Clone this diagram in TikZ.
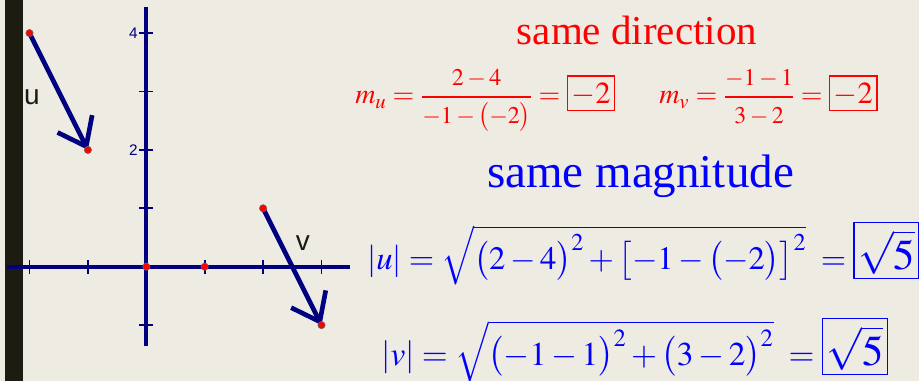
\documentclass[tikz,border=0pt]{standalone}
\usepackage{amsmath}
\usepackage{mathptmx}
\usepackage{fontspec}
\setmainfont{Liberation Serif}
\newfontfamily\labelfont{Liberation Sans}
\usetikzlibrary{arrows.meta,positioning}

\definecolor{paper}{RGB}{238,235,227}
\definecolor{sidebar}{RGB}{28,28,16}
\definecolor{axisnavy}{RGB}{0,0,128}
\definecolor{slopered}{RGB}{255,0,0}
\definecolor{normblue}{RGB}{0,0,255}

% smaller numerator / denominator, larger boxed result
\newcommand{\fracpart}[1]{\mbox{\fontsize{18pt}{20pt}\selectfont$#1$}}
% size, height, depth, content
\newcommand{\answer}[4]{\boxed{\mbox{\fontsize{#1}{#1}\selectfont\rule[-#3]{0pt}{\dimexpr#2+#3\relax}$#4$}}}
\setlength{\fboxrule}{1.1pt}
\setlength{\fboxsep}{2.5pt}

\tikzset{
  axisline/.style={axisnavy,line width=3pt},
  tickmark/.style={axisnavy,line width=1.4pt},
  vector/.style={axisnavy,line width=3.5pt,-{Straight Barb[length=19pt,width=29pt]}},
  gridpt/.style={circle,fill=red,draw=black!60,line width=0.4pt,inner sep=0pt,minimum size=5.5pt},
  veclabel/.style={font=\labelfont\fontsize{21pt}{24pt}\selectfont,text=black!90},
  ticklabel/.style={font=\labelfont\fontsize{11.5pt}{13pt}\selectfont,text=axisnavy,inner sep=1pt},
  heading/.style={anchor=base,inner sep=0pt},
  equation/.style={anchor=base west,inner sep=0pt},
}

\begin{document}
\begin{tikzpicture}[x=0.75pt,y=-0.75pt]
% page
\fill[paper] (0,0) rectangle (919,381);
\useasboundingbox (0,0) rectangle (919,381);
\fill[sidebar] (5,0) rectangle (23,381);

% coordinate plane
\begin{scope}[shift={(109.725pt,-200.025pt)},x=43.8pt,y=43.8pt]
  \draw[axisline] (-2.385,0) -- (3.49,0);
  \draw[axisline] (0,-1.36) -- (0,4.45);
  \foreach \i in {-2,-1,1,2,3} \draw[tickmark] (\i,-0.12) -- (\i,0.12);
  \foreach \j in {-1,1,2,3,4} \draw[tickmark] (-0.12,\j) -- (0.12,\j);
  \node[ticklabel,left] (yfour) at (-0.12,4) {4};
  \node[ticklabel,left] (ytwo) at (-0.12,2) {2};
  \coordinate (O) at (0,0);
  \coordinate (E) at (1,0);
  \coordinate (utail) at (-2,4);
  \coordinate (uhead) at (-1,2);
  \coordinate (vtail) at (2,1);
  \coordinate (vhead) at (3,-1);
  \draw[vector] (utail) -- (uhead);
  \draw[vector] (vtail) -- (vhead);
  \foreach \p in {O,E,utail,uhead,vtail,vhead} \node[gridpt] (dot\p) at (\p) {};
  \node[veclabel] (ulabel) at (-1.96,2.91) {u};
  \node[veclabel] (vlabel) at (2.68,0.41) {v};
\end{scope}

% slopes
\node[heading,text=slopered,font=\fontsize{30.75pt}{36pt}\selectfont] (dirhead) at (637,45) {same direction};
\node[equation,text=slopered,font=\fontsize{21pt}{25pt}\selectfont] (slopeu) at (355,104)
  {$m_u=\dfrac{\fracpart{2-4}}{\fracpart{-1-\bigl(-2\bigr)}}=\answer{23pt}{18pt}{1pt}{-2}$};
\node[equation,text=slopered,font=\fontsize{21pt}{25pt}\selectfont] (slopev) at (659,104)
  {$m_v=\dfrac{\fracpart{-1-1}}{\fracpart{3-2}}=\answer{23pt}{18pt}{1pt}{-2}$};

% lengths
\node[heading,text=normblue,font=\fontsize{35.25pt}{40pt}\selectfont] (maghead) at (640.5,187) {same magnitude};
\node[equation,text=normblue,font=\fontsize{24.5pt}{28pt}\selectfont] (normu) at (367,269)
  {$\lvert u\rvert=\sqrt{\bigl(2-4\bigr)^2+\bigl[-1-\bigl(-2\bigr)\bigr]^2}\;=\answer{32pt}{32pt}{4pt}{\sqrt{5}}$};
\node[equation,text=normblue,font=\fontsize{25pt}{29pt}\selectfont] (normv) at (381,365)
  {$\lvert v\rvert=\sqrt{\bigl(-1-1\bigr)^2+\bigl(3-2\bigr)^2}\;=\answer{32pt}{32pt}{4pt}{\sqrt{5}}$};
\end{tikzpicture}
\end{document}
